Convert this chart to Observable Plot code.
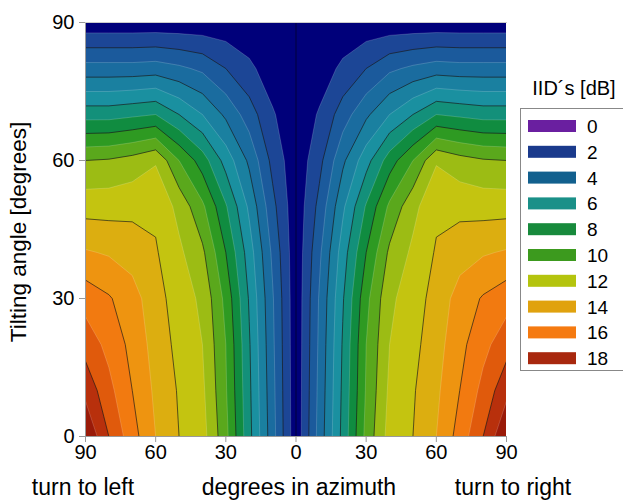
<!DOCTYPE html>
<html>
<head>
<meta charset="utf-8">
<script src="https://cdn.jsdelivr.net/npm/d3@7"></script>
<script src="https://cdn.jsdelivr.net/npm/@observablehq/plot@0.6"></script>
<style>
  body { margin: 0; background: #fff; }
  #wrap { position: relative; width: 623px; height: 502px; overflow: hidden; font-family: "Liberation Sans", Arial, sans-serif; }
  #legend { position: absolute; left: 0; top: 0; }
</style>
</head>
<body>
<div id="wrap"></div>
<script>
// ---- data (IID in dB), right half, azimuth 0..90 step 10; mirrored for left half ----
const azimuthHalf = [0, 10, 20, 30, 40, 50, 60, 70, 80, 90];
const tiltAngles  = [0, 10, 20, 30, 40, 50, 60, 70, 80, 90];
const iidTilt0  = [0.3, 3.4, 6.3, 9.3, 11.4, 12.0, 13.0, 14.4, 16.0, 18.0];
const iidTilt10 = [0.3, 3.3, 6.2, 9.1, 11.2, 11.9, 12.8, 14.0, 15.3, 16.7];
const iidTilt20 = [0.3, 3.2, 6.1, 9.0, 11.0, 11.7, 12.6, 13.7, 14.7, 15.6];
const iidTilt30 = [0.3, 3.1, 5.9, 8.7, 10.8, 11.5, 12.4, 13.4, 14.1, 14.6];
const iidTilt40 = [0.3, 2.8, 5.5, 8.0, 10.2, 11.2, 12.1, 12.6, 12.9, 13.1];
const iidTilt50 = [0.3, 2.3, 4.8, 7.1, 9.2, 10.7, 11.8, 11.7, 11.6, 11.6];
const iidTilt60 = [0.3, 1.7, 3.8, 5.6, 7.5, 9.0, 10.9, 10.4, 10.1, 10.0];
const iidTilt70 = [0.3, 1.1, 2.5, 3.8, 5.0, 6.0, 7.0, 6.8, 6.6, 6.6];
const iidTilt80 = [0.3, 0.5, 1.2, 2.0, 2.8, 3.2, 3.5, 3.4, 3.4, 3.4];
const iidTilt90 = [0.3, 0.3, 0.3, 0.3, 0.3, 0.3, 0.3, 0.3, 0.3, 0.3];

const xTicks = [-90, -60, -30, 0, 30, 60, 90];
const yTicks = [0, 30, 60, 90];
const levels = [0,1,2,3,4,5,6,7,8,9,10,11,12,13,14,15,16,17];
const lineLevelsDark = [2,4,6,8,10,12,14,16];
const lineLevelsLight = [1,3,5,7,9,11,13,15,17];
const bandColors = ["#00007a","#1c4696","#1b5a9c","#1a6c9f","#1a80a0","#1a90a0","#13907a","#108c40",
  "#2e9a22","#5aa81c","#9cbc14","#c4c410","#dcae10","#ee9410","#f27a10","#e05a0c","#b8300c","#9a1a08"];
const legendLabels = ["0","2","4","6","8","10","12","14","16","18"];
const legendColors = ["#6a1fa0","#1a3a8c","#12608e","#1a9088","#178a3c","#3c9a1e","#b4c40e","#e0a20e","#f57a10","#a8280e"];
const centerLine = [0];

// build full grid (rows from tilt 0 upward; columns from -90 to 90)
const rows = [iidTilt0, iidTilt10, iidTilt20, iidTilt30, iidTilt40, iidTilt50, iidTilt60, iidTilt70, iidTilt80, iidTilt90];
const nx = azimuthHalf.length * 2 - 1, ny = tiltAngles.length;
const grid = [];
for (const r of rows) {
  const left = r.slice(1).reverse();
  grid.push(...left, ...r);
}
const step = azimuthHalf[1] - azimuthHalf[0];
const gridOpts = {width: nx, height: ny,
  x1: -azimuthHalf[azimuthHalf.length-1] - step/2, x2: azimuthHalf[azimuthHalf.length-1] + step/2,
  y1: tiltAngles[0] - step/2, y2: tiltAngles[ny-1] + step/2, clip: true};

const axisFont = 20;
const chart = Plot.plot({
  width: 623, height: 502,
  marginLeft: 85, marginRight: 117, marginTop: 22, marginBottom: 66,
  style: {fontFamily: "Liberation Sans, Arial, sans-serif", fontSize: axisFont + "px", color: "#000", background: "#fff"},
  x: {domain: [-90, 90], label: null},
  y: {domain: [0, 90], label: null},
  color: {type: "ordinal", domain: levels, range: bandColors},
  marks: [
    Plot.contour(grid, {...gridOpts, thresholds: levels, fill: Plot.identity}),
    Plot.contour(grid, {...gridOpts, thresholds: lineLevelsLight, fill: "none", stroke: "#ffffff", strokeOpacity: 0.22, strokeWidth: 0.8}),
    Plot.contour(grid, {...gridOpts, thresholds: lineLevelsDark, fill: "none", stroke: "#1a1a1a", strokeOpacity: 0.75, strokeWidth: 0.9}),
    Plot.ruleX(centerLine, {stroke: "#000045", strokeWidth: 1.2}),
    Plot.frame({anchor: "left", stroke: "#999"}),
    Plot.frame({anchor: "bottom", stroke: "#999"}),
    Plot.frame({anchor: "top", stroke: "#ccc"}),
    Plot.axisX({ticks: xTicks, tickFormat: d => Math.abs(d), tickSize: 6, tickPadding: 2, stroke: "#999", fontSize: axisFont, label: null}),
    Plot.axisY({ticks: yTicks, tickSize: 6, tickPadding: 5, stroke: "#999", fontSize: axisFont, label: null})
  ]
});
document.getElementById("wrap").appendChild(chart);

// axis titles and legend drawn into an overlay svg
const svg = d3.select("#wrap").append("svg")
  .attr("id", "legend").attr("width", 623).attr("height", 502)
  .style("font-family", "Liberation Sans, Arial, sans-serif");

const txt = (x, y, s, size, anchor, rot) => {
  const t = svg.append("text").attr("x", x).attr("y", y).attr("font-size", size)
    .attr("text-anchor", anchor).attr("fill", "#000").text(s);
  if (rot) t.attr("transform", `rotate(${rot},${x},${y})`);
  return t;
};
txt(83, 495, "turn to left", 23, "middle");
txt(299, 495, "degrees in azimuth", 23, "middle");
txt(513, 495, "turn to right", 23, "middle");
txt(26, 232, "Tilting angle [degrees]", 22.5, "middle", -90);
txt(574, 95, "IID´s [dB]", 20, "middle");

svg.append("rect").attr("x", 520.5).attr("y", 108.5).attr("width", 110).attr("height", 262)
  .attr("fill", "#fff").attr("stroke", "#888");
legendLabels.forEach((lab, i) => {
  const cy = 126 + i * 25.8;
  svg.append("rect").attr("x", 528).attr("y", cy - 6).attr("width", 48).attr("height", 12).attr("fill", legendColors[i]);
  txt(587, cy + 7, lab, 19, "start");
});
</script>
</body>
</html>
